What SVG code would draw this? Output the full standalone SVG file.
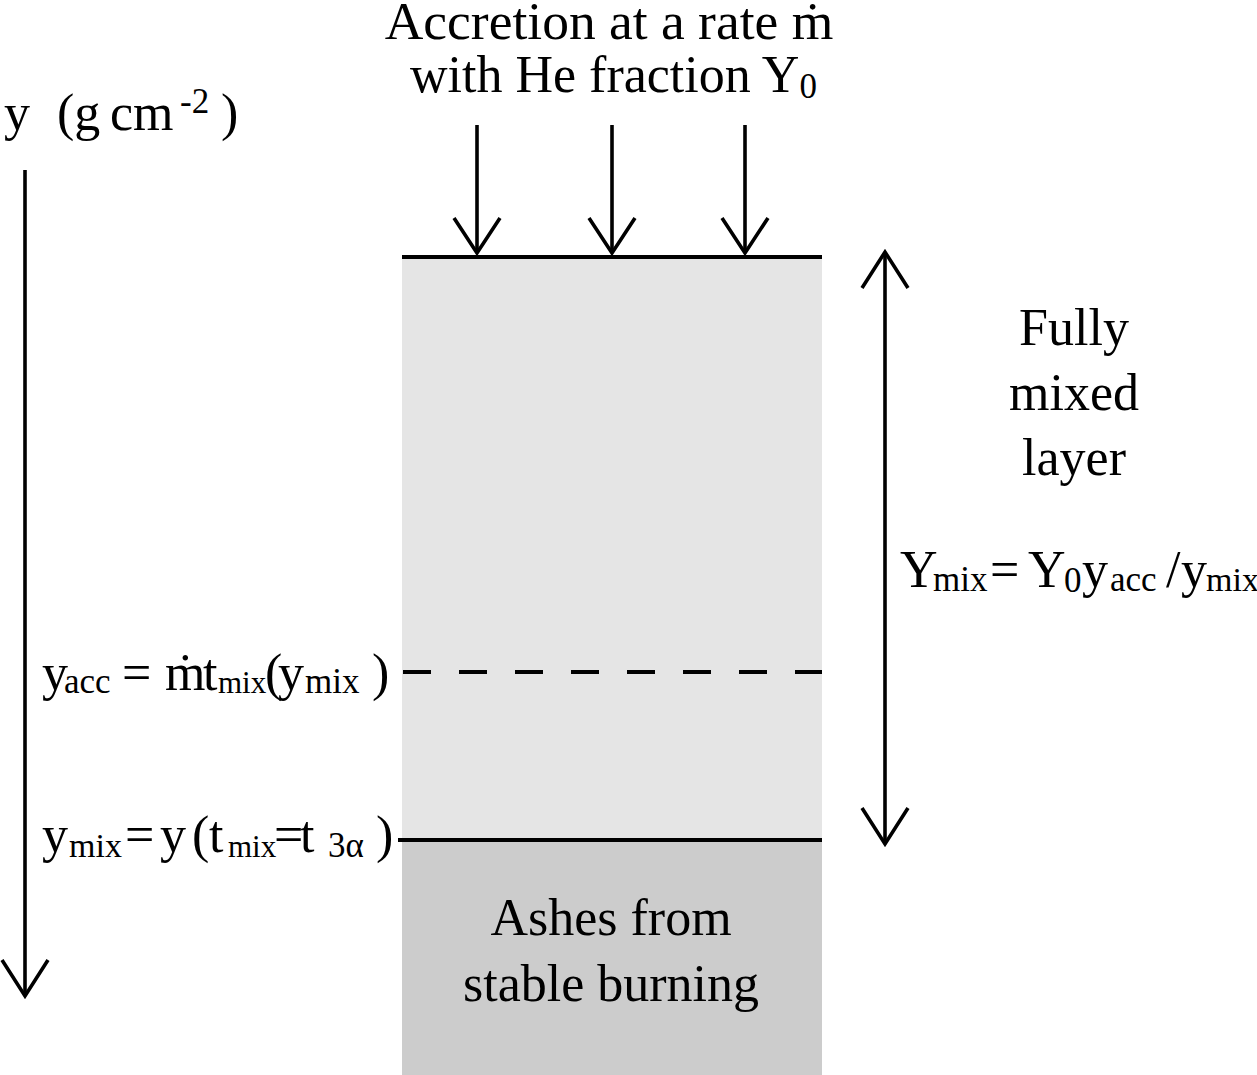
<svg xmlns="http://www.w3.org/2000/svg" width="1257" height="1075" viewBox="0 0 1257 1075">
<style>
text{font-family:"Liberation Serif","Times New Roman",serif;font-size:52px;fill:#000}
.s{font-size:35px}
.m{font-size:34px}
.t{font-size:31px}
.ln{stroke:#000;stroke-width:3.6;fill:none}
.bar{stroke:#000;stroke-width:4;fill:none}
</style>
<rect width="1257" height="1075" fill="#fff"/>
<g id="mixed-layer">
<rect x="402" y="257" width="420" height="583" fill="#e5e5e5"/>
</g>
<g id="ashes">
<rect x="402" y="840" width="420" height="235" fill="#cccccc"/>
<text x="611" y="935" text-anchor="middle">Ashes from</text>
<text x="611" y="1001" text-anchor="middle">stable burning</text>
</g>
<g id="boundaries">
<line class="bar" x1="402" y1="257" x2="822" y2="257"/>
<line class="bar" x1="398" y1="840" x2="822" y2="840"/>
<line class="bar" x1="403" y1="672" x2="822" y2="672" stroke-dasharray="28 28"/>
</g>
<g id="connectors">
<line class="ln" x1="477" y1="125" x2="477" y2="253"/>
<polyline class="ln" points="454,218 477,253 500,218"/>
<line class="ln" x1="612" y1="125" x2="612" y2="253"/>
<polyline class="ln" points="589,218 612,253 635,218"/>
<line class="ln" x1="745" y1="125" x2="745" y2="253"/>
<polyline class="ln" points="722,218 745,253 768,218"/>
<line class="ln" x1="25" y1="170" x2="25" y2="996"/>
<polyline class="ln" points="2,960 25,996 48,960"/>
<line class="ln" x1="885" y1="252" x2="885" y2="844"/>
<polyline class="ln" points="862,288 885,252 908,288"/>
<polyline class="ln" points="862,808 885,844 908,808"/>
</g>
<g id="title">
<text x="609" y="39" text-anchor="middle" style="font-size:53.5px">Accretion at a rate ṁ</text>
<text x="410" y="92">with He fraction Y<tspan class="s" dy="6">0</tspan></text>
</g>
<g id="axis-label">
<text y="130"><tspan x="4">y</tspan><tspan x="57">(g</tspan><tspan x="110">cm</tspan><tspan class="s" x="180" y="113">-2</tspan><tspan x="221" y="130">)</tspan></text>
</g>
<g id="fully-mixed-label">
<text x="1074" y="345" text-anchor="middle">Fully</text>
<text x="1074" y="410" text-anchor="middle">mixed</text>
<text x="1074" y="475" text-anchor="middle">layer</text>
</g>
<g id="ymix-formula">
<text y="587"><tspan x="900">Y</tspan><tspan class="s" x="933" y="591">mix</tspan><tspan x="990" y="587">=</tspan><tspan x="1028">Y</tspan><tspan class="s" x="1064" y="592">0</tspan><tspan x="1082" y="587">y</tspan><tspan class="s" x="1110" y="591">acc</tspan><tspan x="1166" y="587">/</tspan><tspan x="1181">y</tspan><tspan class="m" x="1206" y="591">mix</tspan></text>
</g>
<g id="yacc-label">
<text y="690"><tspan x="42">y</tspan><tspan class="s" x="64" y="693">acc</tspan><tspan x="122" y="690">=</tspan><tspan x="165">ṁ</tspan><tspan x="203">t</tspan><tspan class="t" x="218" y="693">mix</tspan><tspan x="265" y="690">(</tspan><tspan x="278">y</tspan><tspan class="s" x="305" y="693">mix</tspan><tspan x="372" y="690">)</tspan></text>
</g>
<g id="ymix-label">
<text y="852"><tspan x="42">y</tspan><tspan class="m" x="69" y="857">mix</tspan><tspan x="125" y="852">=</tspan><tspan x="160">y</tspan><tspan x="192">(</tspan><tspan x="209">t</tspan><tspan class="t" x="228" y="857">mix</tspan><tspan x="274" y="852">=</tspan><tspan x="300">t</tspan><tspan class="s" x="328" y="857">3α</tspan><tspan x="376" y="852">)</tspan></text>
</g>
</svg>
